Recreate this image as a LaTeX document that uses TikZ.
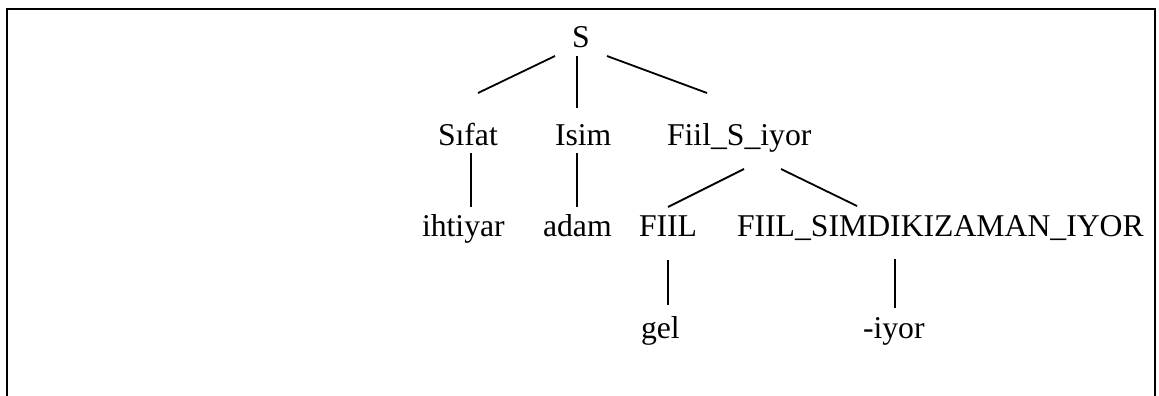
\documentclass[tikz,border=0pt]{standalone}
\usepackage{fontspec}
\setmainfont{Liberation Serif}
\begin{document}
\begin{tikzpicture}[x=1pt,y=-1pt,
  lbl/.style={anchor=base west,inner sep=0pt,outer sep=0pt,font=\fontsize{31.7}{38}\selectfont},
  edge/.style={line width=1.8pt,line cap=butt},
  frame/.style={line width=2.6pt}]
\useasboundingbox (0,0) rectangle (1159,396);
\fill[white] (0,0) rectangle (1159,396);
% frame (open at bottom, as cut by the page)
\draw[frame] (7,398) -- (7,9) -- (1155,9) -- (1155,398);
% labels
\node[lbl] (S) at (572,48) {S};
\node[lbl] (sifat) at (438,145) {S\i fat};
\node[lbl] (isim) at (555,145) {Isim};
\node[lbl] (fiils) at (667,145) {Fiil\symbol{95}S\symbol{95}iyor};
\node[lbl] (ihtiyar) at (422,236) {ihtiyar};
\node[lbl] (adam) at (543,236) {adam};
\node[lbl] (fiil) at (639,236) {FIIL};
\node[lbl] (fiilsim) at (737,236) {FIIL\symbol{95}SIMDIKIZAMAN\symbol{95}IYOR};
\node[lbl] (gel) at (641,338) {gel};
\node[lbl] (iyor) at (863,338) {-iyor};
% connector end points
\coordinate (S-l) at (555,56);   \coordinate (sifat-t) at (478,93);
\coordinate (S-m) at (577,56);   \coordinate (isim-t) at (577,108);
\coordinate (S-r) at (607,56);   \coordinate (fiils-t) at (707,93);
\coordinate (sifat-b) at (471,153); \coordinate (ihtiyar-t) at (471,207);
\coordinate (isim-b) at (577,153);  \coordinate (adam-t) at (577,207);
\coordinate (fiils-bl) at (744,169); \coordinate (fiil-t) at (668,207);
\coordinate (fiils-br) at (781,169); \coordinate (fiilsim-t) at (857,206);
\coordinate (fiil-b) at (668,260);  \coordinate (gel-t) at (668,305);
\coordinate (fiilsim-b) at (895,259); \coordinate (iyor-t) at (895,308);
% connectors
\draw[edge] (S-l) -- (sifat-t);
\draw[edge] (S-m) -- (isim-t);
\draw[edge] (S-r) -- (fiils-t);
\draw[edge] (sifat-b) -- (ihtiyar-t);
\draw[edge] (isim-b) -- (adam-t);
\draw[edge] (fiils-bl) -- (fiil-t);
\draw[edge] (fiils-br) -- (fiilsim-t);
\draw[edge] (fiil-b) -- (gel-t);
\draw[edge] (fiilsim-b) -- (iyor-t);
\end{tikzpicture}
\end{document}
